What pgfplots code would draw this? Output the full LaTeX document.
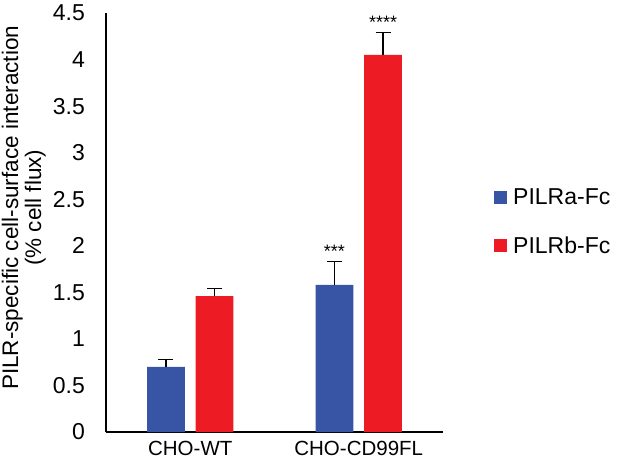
\documentclass[border=0pt]{standalone}
\usepackage{pgfplots}
\pgfplotsset{compat=1.18}
\usepackage{fontspec}
\setmainfont{Liberation Sans}
\definecolor{pblue}{RGB}{56,84,165}
\definecolor{pred}{RGB}{237,28,36}
\begin{document}
\begin{tikzpicture}
\begin{axis}[
  at={(0,0)}, anchor=south west,
  scale only axis,
  width=337pt, height=419pt,
  xmin=-0.5, xmax=1.5,
  ymin=0, ymax=4.5,
  axis x line=bottom, axis y line=left,
  axis line style={line width=1.3pt, -},
  major tick length=0pt,
  xtick={0,1}, xticklabels={CHO-WT, CHO-CD99FL},
  ytick={0,0.5,...,4.5},
  yticklabels={0,0.5,1,1.5,2,2.5,3,3.5,4,4.5},
  yticklabel style={anchor=east, inner sep=0pt, xshift=-21pt, font=\fontsize{23}{23}\selectfont},
  xticklabel style={anchor=north, inner sep=0pt, yshift=-9pt, font=\fontsize{20.5}{20.5}\selectfont},
  ylabel={PILR-specific cell-surface interaction\\(\% cell flux)},
  ylabel style={at={(axis description cs:-0.178,0.535)}, anchor=south, align=center, inner sep=0pt, font=\fontsize{22.5}{23}\selectfont},
  legend style={at={(axis description cs:1,0.502)}, anchor=west, xshift=51pt, draw=none, fill=none,
    font=\fontsize{23}{23}\selectfont, row sep=27pt, column sep=4pt, inner sep=0pt},
  legend cell align=left,
  clip=false,
]
\addplot[ybar, bar width=0.225, bar shift=0pt, fill=pblue, draw=none,
  legend image code/.code={\fill[pblue] (0pt,-6.5pt) rectangle (13pt,6.5pt);},
  error bars/.cd, y dir=plus, y explicit,
  error bar style={line width=1.6pt, black},
  error mark options={rotate=90, mark size=7.5pt, line width=1.6pt, black}]
  coordinates {(-0.144,0.70) +- (0,0.08) (0.856,1.58) +- (0,0.25)};
\addlegendentry{PILRa-Fc}
\addplot[ybar, bar width=0.225, bar shift=0pt, fill=pred, draw=none,
  legend image code/.code={\fill[pred] (0pt,-6.5pt) rectangle (13pt,6.5pt);},
  error bars/.cd, y dir=plus, y explicit,
  error bar style={line width=1.6pt, black},
  error mark options={rotate=90, mark size=7.5pt, line width=1.6pt, black}]
  coordinates {(0.144,1.46) +- (0,0.08) (1.144,4.05) +- (0,0.24)};
\addlegendentry{PILRb-Fc}
\addplot[draw=none, mark=none, forget plot, nodes near coords, point meta=explicit symbolic,
  nodes near coords style={anchor=base, inner sep=0pt, yshift=4pt, font=\fontsize{18}{18}\selectfont}]
  coordinates {(0.856,1.83) [***] (1.144,4.29) [****]};
\end{axis}
\pgfresetboundingbox
\useasboundingbox (-106pt,-37pt) rectangle (511pt,432pt);
\end{tikzpicture}
\end{document}
